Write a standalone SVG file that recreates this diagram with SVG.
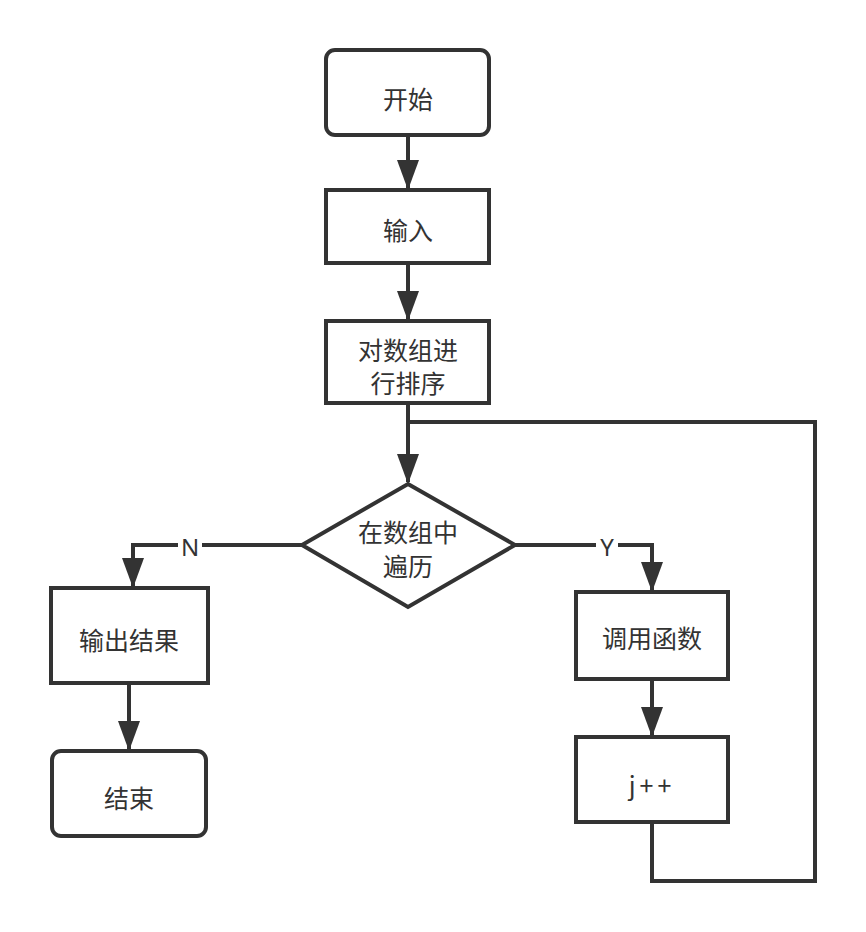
<svg xmlns="http://www.w3.org/2000/svg" width="866" height="932" viewBox="0 0 866 932">
<defs>
<style>
.n{fill:#fff;stroke:#333;stroke-width:4}
.t{font-family:"Noto Sans CJK SC","Noto Sans",sans-serif;font-size:25px;fill:#333;text-anchor:middle;dominant-baseline:central}
.c{fill:none;stroke:#333;stroke-width:4}
.lb{font-family:"Noto Sans","Liberation Sans",sans-serif;font-size:24px;fill:#333;text-anchor:middle;dominant-baseline:central}
</style>
<marker id="a" markerUnits="userSpaceOnUse" markerWidth="30" markerHeight="22" refX="28" refY="11" orient="auto" viewBox="0 0 30 22">
<path d="M0,0 L30,11 L0,22 Z" fill="#333"/>
</marker>
</defs>
<rect width="866" height="932" fill="#fff"/>
<g id="connectors">
<path class="c" d="M408,136 V188" marker-end="url(#a)"/>
<path class="c" d="M408,264 V319" marker-end="url(#a)"/>
<path class="c" d="M408,404 V482" marker-end="url(#a)"/>
<path class="c" d="M302,545 H133 V586" marker-end="url(#a)"/>
<path class="c" d="M515,545 H652 V590" marker-end="url(#a)"/>
<path class="c" d="M652,680 V735" marker-end="url(#a)"/>
<path class="c" d="M129,684 V749" marker-end="url(#a)"/>
<path class="c" d="M652,823 V881 H815 V422 H408"/>
<rect x="178" y="531" width="24" height="28" fill="#fff"/>
<text class="lb" x="190" y="546">N</text>
<rect x="596" y="531" width="22" height="28" fill="#fff"/>
<text class="lb" x="607" y="546">Y</text>
</g>
<g id="start"><rect class="n" x="326" y="50" width="163" height="85" rx="9"/><text class="t" x="408" y="98">开始</text></g>
<g id="input"><rect class="n" x="326" y="190" width="163" height="73"/><text class="t" x="408" y="229">输入</text></g>
<g id="sort"><rect class="n" x="326" y="321" width="163" height="82"/><text class="t" x="408" y="349">对数组进</text><text class="t" x="408" y="382">行排序</text></g>
<g id="loop"><polygon class="n" points="408,484 515,545 408,607 302,545"/><text class="t" x="408" y="531">在数组中</text><text class="t" x="408" y="565">遍历</text></g>
<g id="output"><rect class="n" x="51" y="588" width="157" height="95"/><text class="t" x="129" y="639">输出结果</text></g>
<g id="end"><rect class="n" x="52" y="751" width="154" height="85" rx="9"/><text class="t" x="129" y="797">结束</text></g>
<g id="call"><rect class="n" x="576" y="592" width="152" height="87"/><text class="t" x="652" y="637">调用函数</text></g>
<g id="inc"><rect class="n" x="576" y="737" width="152" height="85"/><text class="t" x="652" y="784" letter-spacing="4">j++</text></g>
</svg>
